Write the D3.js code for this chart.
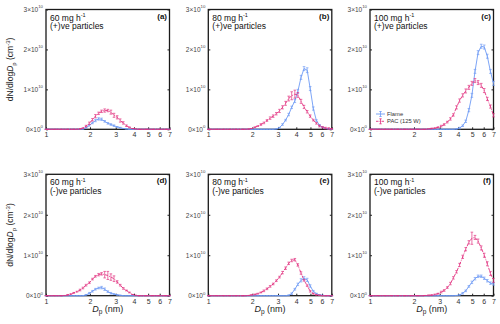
<!DOCTYPE html>
<html><head><meta charset="utf-8">
<script src="https://cdn.jsdelivr.net/npm/d3@7"></script>
<style>body{margin:0;background:#fff}svg{display:block}text{font-family:"Liberation Sans",Arial,sans-serif}</style>
</head><body>
<script>
// particle diameter bins (nm)
const diameters = [1.00,1.05,1.10,1.16,1.21,1.28,1.34,1.41,1.48,1.55,1.63,1.71,1.79,1.88,1.98,2.08,2.18,2.29,2.40,2.52,2.65,2.78,2.92,3.07,3.22,3.38,3.55,3.72,3.91,4.10,4.31,4.52,4.75,4.98,5.23,5.49,5.77,6.05,6.35,6.67,7.00];
// dN/dlogDp in units of 1e10 cm^-3
const flameA = [0,0,0,0,0,0,0,0,0,0,0,0,0.005,0.04,0.10,0.16,0.22,0.26,0.25,0.20,0.15,0.12,0.09,0.06,0.04,0.02,0.01,0,0,0,0,0,0,0,0,0,0,0,0,0,0];
const pacA   = [0,0,0,0,0,0,0,0,0,0,0,0.01,0.03,0.08,0.15,0.24,0.33,0.40,0.45,0.47,0.47,0.43,0.35,0.30,0.22,0.16,0.09,0.05,0.02,0.01,0,0,0,0,0,0,0,0,0,0,0];
const flameB = [0,0,0,0,0,0,0,0,0,0,0,0,0,0,0,0,0,0,0,0,0,0,0.01,0.04,0.12,0.23,0.37,0.55,0.71,0.95,1.30,1.52,1.48,1.02,0.52,0.22,0.10,0.05,0.02,0.01,0];
const pacB   = [0,0,0,0,0,0,0,0,0,0,0,0,0,0.005,0.02,0.05,0.08,0.12,0.16,0.22,0.28,0.33,0.39,0.46,0.55,0.65,0.77,0.84,0.88,0.86,0.70,0.56,0.44,0.33,0.23,0.15,0.08,0.05,0.03,0.02,0.01];
const flameC = [0,0,0,0,0,0,0,0,0,0,0,0,0,0,0,0,0,0,0,0,0,0,0,0,0,0,0,0,0.01,0.03,0.09,0.20,0.48,0.85,1.45,1.92,2.08,2.06,1.83,1.45,1.15];
const pacC   = [0,0,0,0,0,0,0,0,0,0,0,0,0,0,0,0,0,0,0,0.01,0.02,0.03,0.05,0.08,0.12,0.18,0.26,0.36,0.55,0.72,0.85,0.96,1.05,1.15,1.22,1.17,1.10,0.97,0.76,0.57,0.35];
const flameD = [0,0,0,0,0,0,0,0,0,0,0,0,0,0.02,0.06,0.11,0.16,0.19,0.20,0.16,0.10,0.06,0.04,0.02,0.01,0,0,0,0,0,0,0,0,0,0,0,0,0,0,0,0];
const pacD   = [0,0,0,0,0,0,0.005,0.02,0.04,0.07,0.10,0.14,0.19,0.26,0.32,0.41,0.48,0.52,0.54,0.52,0.50,0.46,0.42,0.34,0.26,0.18,0.13,0.08,0.03,0.01,0,0,0,0,0,0,0,0,0,0,0];
const flameE = [0,0,0,0,0,0,0,0,0,0,0,0,0,0,0,0,0,0,0,0,0,0,0,0,0,0,0.01,0.05,0.16,0.28,0.38,0.43,0.39,0.24,0.11,0.05,0.02,0.01,0,0,0];
const pacE   = [0,0,0,0,0,0,0,0,0,0,0,0,0,0.005,0.02,0.03,0.05,0.08,0.12,0.17,0.23,0.29,0.37,0.46,0.57,0.68,0.80,0.87,0.89,0.76,0.56,0.38,0.25,0.11,0.05,0.02,0.01,0,0,0,0];
const flameF = [0,0,0,0,0,0,0,0,0,0,0,0,0,0,0,0,0,0,0,0,0,0,0,0,0,0,0,0,0.005,0.02,0.06,0.12,0.23,0.33,0.42,0.48,0.48,0.43,0.37,0.31,0.29];
const pacF   = [0,0,0,0,0,0,0,0,0,0,0,0,0,0,0,0,0,0,0.005,0.01,0.015,0.03,0.05,0.09,0.13,0.20,0.30,0.44,0.59,0.76,0.96,1.15,1.32,1.42,1.44,1.35,1.18,1.00,0.79,0.55,0.38];
// error bars (same units)
const errFlameA = [0,0,0,0,0,0,0,0,0,0,0,0,0,0.01,0.02,0.02,0.03,0.03,0.03,0.02,0.02,0.02,0.02,0.01,0.01,0,0,0,0,0,0,0,0,0,0,0,0,0,0,0,0];
const errPacA   = [0,0,0,0,0,0,0,0,0,0,0,0,0.01,0.02,0.03,0.03,0.04,0.03,0.03,0.04,0.03,0.05,0.05,0.04,0.04,0.03,0.02,0.01,0,0,0,0,0,0,0,0,0,0,0,0,0];
const errFlameB = [0,0,0,0,0,0,0,0,0,0,0,0,0,0,0,0,0,0,0,0,0,0,0,0.01,0.02,0.02,0.03,0.03,0.04,0.05,0.05,0.05,0.06,0.05,0.04,0.02,0.02,0.01,0,0,0];
const errPacB   = [0,0,0,0,0,0,0,0,0,0,0,0,0,0,0,0.01,0.01,0.02,0.02,0.02,0.03,0.03,0.03,0.04,0.04,0.05,0.06,0.10,0.10,0.06,0.05,0.04,0.03,0.03,0.02,0.02,0.02,0.02,0.02,0.02,0.01];
const errFlameC = [0,0,0,0,0,0,0,0,0,0,0,0,0,0,0,0,0,0,0,0,0,0,0,0,0,0,0,0,0.01,0.02,0.02,0.03,0.04,0.05,0.05,0.05,0.05,0.05,0.05,0.05,0.05];
const errPacC   = [0,0,0,0,0,0,0,0,0,0,0,0,0,0,0,0,0,0,0,0,0.01,0.01,0.01,0.02,0.02,0.02,0.03,0.03,0.04,0.04,0.04,0.05,0.05,0.05,0.05,0.05,0.05,0.05,0.04,0.04,0.04];
const errFlameD = [0,0,0,0,0,0,0,0,0,0,0,0,0,0.01,0.02,0.02,0.02,0.02,0.03,0.03,0.02,0.02,0.01,0.01,0,0,0,0,0,0,0,0,0,0,0,0,0,0,0,0,0];
const errPacD   = [0,0,0,0,0,0,0,0.01,0.01,0.01,0.01,0.02,0.02,0.02,0.02,0.02,0.02,0.03,0.03,0.08,0.10,0.08,0.07,0.03,0.02,0.02,0.01,0.01,0,0,0,0,0,0,0,0,0,0,0,0,0];
const errFlameE = [0,0,0,0,0,0,0,0,0,0,0,0,0,0,0,0,0,0,0,0,0,0,0,0,0,0,0.01,0.02,0.02,0.03,0.04,0.04,0.04,0.03,0.02,0.01,0.01,0,0,0,0];
const errPacE   = [0,0,0,0,0,0,0,0,0,0,0,0,0,0,0.01,0.01,0.01,0.01,0.02,0.02,0.02,0.02,0.02,0.02,0.03,0.03,0.03,0.03,0.03,0.03,0.03,0.02,0.02,0.02,0.01,0.01,0,0,0,0,0];
const errFlameF = [0,0,0,0,0,0,0,0,0,0,0,0,0,0,0,0,0,0,0,0,0,0,0,0,0,0,0,0,0,0.01,0.02,0.02,0.02,0.03,0.03,0.03,0.03,0.03,0.03,0.03,0.03];
const errPacF   = [0,0,0,0,0,0,0,0,0,0,0,0,0,0,0,0,0,0,0,0.01,0.01,0.01,0.01,0.02,0.02,0.02,0.03,0.03,0.03,0.04,0.04,0.04,0.04,0.15,0.05,0.05,0.05,0.05,0.05,0.05,0.05];

const panelLabels = ["(a)","(b)","(c)","(d)","(e)","(f)"];
const loadings = ["60 mg h","80 mg h","100 mg h"];
const polarities = ["(+)ve particles","(-)ve particles"];
const xTicks = [1,2,3,4,5,6,7];
const yTicks = [0,1,2,3];
const yTickExp = ["0","10","10","10"];
const seriesNames = ["Flame","PAC (125 W)"];

const flameSeries = [flameA,flameB,flameC,flameD,flameE,flameF];
const pacSeries = [pacA,pacB,pacC,pacD,pacE,pacF];
const flameErr = [errFlameA,errFlameB,errFlameC,errFlameD,errFlameE,errFlameF];
const pacErr = [errPacA,errPacB,errPacC,errPacD,errPacE,errPacF];

const W=500,H=324;
const blue="#6e9bf5", pink="#e2307f";
const svg=d3.select("body").append("svg").attr("width",W).attr("height",H);
const colLeft=[46,208.3,370], colW=123.5;
const rowTop=[9.5,174.3], rowH=[119.8,121.4];

function drawSeries(g,x,y,vals,errs,color,dash){
  const pts=diameters.map((d,i)=>({d,v:vals[i],e:errs[i]}));
  const line=d3.line().x(p=>x(p.d)).y(p=>y(p.v));
  g.append("path").datum(pts).attr("d",line).attr("fill","none")
    .attr("stroke",color).attr("stroke-width",0.9).attr("stroke-dasharray",dash||null);
  const eb=g.append("g").attr("stroke",color).attr("stroke-width",0.8).attr("opacity",0.85);
  pts.forEach(p=>{
    const cx=x(p.d), y1=y(p.v-p.e), y2=y(p.v+p.e);
    if(p.e>0) eb.append("line").attr("x1",cx).attr("x2",cx).attr("y1",y1).attr("y2",y2);
    eb.append("line").attr("x1",cx-1.3).attr("x2",cx+1.3).attr("y1",y1).attr("y2",y1);
    eb.append("line").attr("x1",cx-1.3).attr("x2",cx+1.3).attr("y1",y2).attr("y2",y2);
  });
}

for(let k=0;k<6;k++){
  const r=Math.floor(k/3), c=k%3;
  const h=rowH[r];
  const g=svg.append("g").attr("transform",`translate(${colLeft[c]},${rowTop[r]})`);
  const x=d3.scaleLog().domain([1,7]).range([0,colW]);
  const y=d3.scaleLinear().domain([0,3]).range([h,0]);

  g.append("rect").attr("width",colW).attr("height",h).attr("fill","none")
    .attr("stroke","#1a1a1a").attr("stroke-width",1.3);

  const xa=g.append("g").attr("transform",`translate(0,${h})`)
    .call(d3.axisBottom(x).tickValues(xTicks).tickSize(-2).tickPadding(3).tickFormat(d3.format("d")));
  xa.select(".domain").remove();
  xa.selectAll("text").attr("font-size",7).attr("fill","#333").style("font-family","Liberation Sans, Arial, sans-serif");
  xa.selectAll("line").attr("stroke","#222");

  const ya=g.append("g").call(d3.axisLeft(y).tickValues(yTicks).tickSize(-2).tickPadding(3).tickFormat(""));
  ya.select(".domain").remove();
  ya.selectAll("line").attr("stroke","#222");
  ya.selectAll(".tick text").each(function(d,i){
    const t=d3.select(this).attr("font-size",6.5).attr("fill","#444").attr("dy","0.35em")
      .style("font-family","Liberation Sans, Arial, sans-serif");
    t.text(null);
    t.append("tspan").text(d+"×10");
    t.append("tspan").attr("font-size",4.3).attr("dy","-0.9em").text(yTickExp[i]);
  });
  const yr=g.append("g").attr("transform",`translate(${colW},0)`)
    .call(d3.axisRight(y).tickValues(yTicks).tickSize(-2).tickFormat(""));
  yr.select(".domain").remove();
  yr.selectAll("line").attr("stroke","#222");

  drawSeries(g,x,y,flameSeries[k],flameErr[k],blue,null);
  drawSeries(g,x,y,pacSeries[k],pacErr[k],pink,"3,1.3,1,1.3");

  const t1=g.append("text").attr("x",4).attr("y",11).attr("font-size",8.5).attr("fill","#111");
  t1.append("tspan").text(loadings[c]);
  t1.append("tspan").attr("font-size",5.5).attr("dy",-3.5).text("-1");
  g.append("text").attr("x",4).attr("y",19.5).attr("font-size",8.5).attr("fill","#111").text(polarities[r]);
  g.append("text").attr("x",colW-2.5).attr("y",9).attr("text-anchor","end").attr("font-size",8)
    .attr("font-weight","bold").attr("fill","#111").text(panelLabels[k]);

  if(c===0){
    const yl=svg.append("text").attr("transform",`translate(13,${rowTop[r]+h/2}) rotate(-90)`)
      .attr("text-anchor","middle").attr("font-size",8.5).attr("fill","#222");
    yl.append("tspan").text("dN/dlog");
    yl.append("tspan").attr("font-style","italic").text("D");
    yl.append("tspan").attr("font-size",6).attr("dy",2.5).text("p");
    yl.append("tspan").attr("dy",-2.5).text(" (cm");
    yl.append("tspan").attr("font-size",6).attr("dy",-3.5).text("-3");
    yl.append("tspan").attr("dy",3.5).text(")");
  }
  if(r===1){
    const xl=svg.append("text").attr("x",colLeft[c]+colW/2).attr("y",311.5)
      .attr("text-anchor","middle").attr("font-size",9).attr("fill","#222");
    xl.append("tspan").attr("font-style","italic").text("D");
    xl.append("tspan").attr("font-size",6.5).attr("dy",2.5).text("p");
    xl.append("tspan").attr("dy",-2.5).text(" (nm)");
  }
  if(k===2){
    const lg=g.append("g");
    [[blue,null,104.5],[pink,"2.5,1,1,1",111.8]].forEach((s,i)=>{
      const ly=s[2];
      lg.append("line").attr("x1",6).attr("x2",15).attr("y1",ly).attr("y2",ly)
        .attr("stroke",s[0]).attr("stroke-width",0.9).attr("stroke-dasharray",s[1]);
      lg.append("line").attr("x1",10.5).attr("x2",10.5).attr("y1",ly-2.5).attr("y2",ly+2.5).attr("stroke",s[0]).attr("stroke-width",0.8);
      lg.append("line").attr("x1",9.3).attr("x2",11.7).attr("y1",ly-2.5).attr("y2",ly-2.5).attr("stroke",s[0]).attr("stroke-width",0.8);
      lg.append("line").attr("x1",9.3).attr("x2",11.7).attr("y1",ly+2.5).attr("y2",ly+2.5).attr("stroke",s[0]).attr("stroke-width",0.8);
      lg.append("text").attr("x",17).attr("y",ly+2).attr("font-size",5.8).attr("fill","#333").text(seriesNames[i]);
    });
  }
}
</script>
</body></html>
